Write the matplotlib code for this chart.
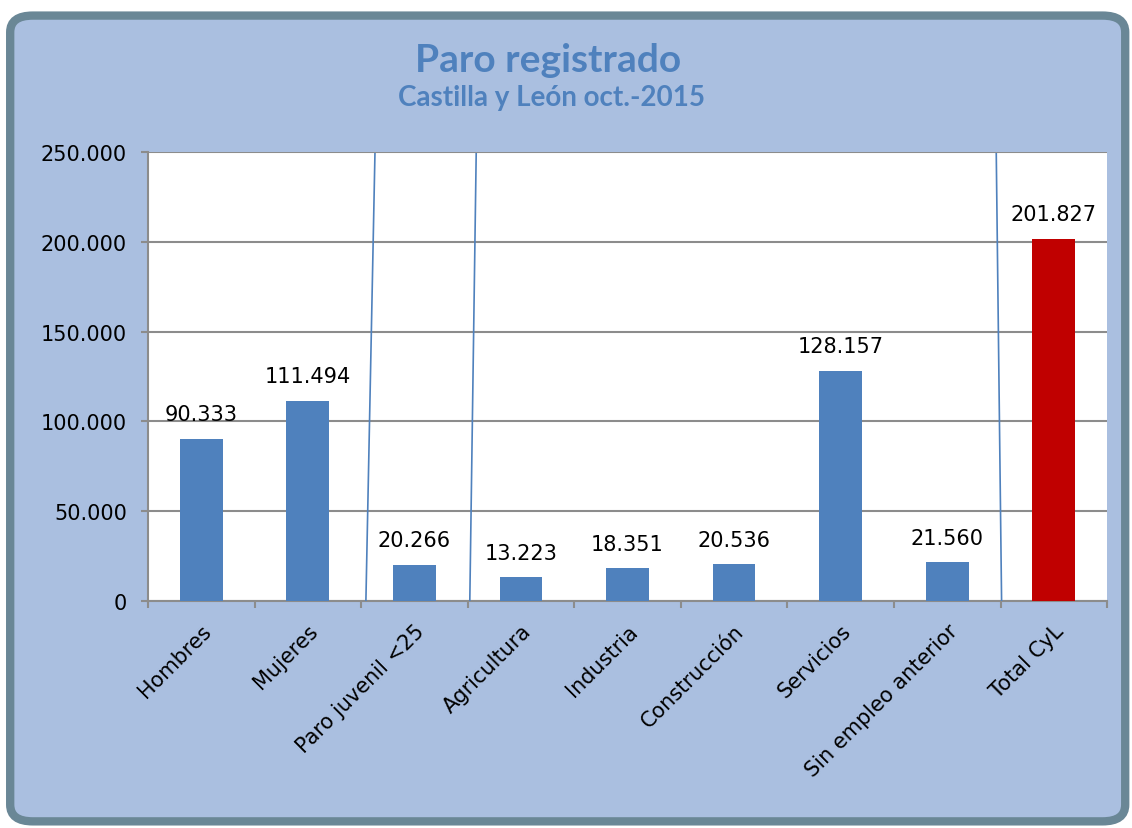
import matplotlib
matplotlib.use("Agg")
import matplotlib.pyplot as plt
from matplotlib.patches import FancyBboxPatch
from matplotlib.ticker import FuncFormatter

categories = ["Hombres", "Mujeres", "Paro juvenil <25", "Agricultura", "Industria",
              "Construcción", "Servicios", "Sin empleo anterior", "Total CyL"]
values = [90333, 111494, 20266, 13223, 18351, 20536, 128157, 21560, 201827]
labels = ["90.333", "111.494", "20.266", "13.223", "18.351", "20.536", "128.157", "21.560", "201.827"]
bar_colors = ["#4F81BD"] * 8 + ["#C00000"]
separators = [((1.545, 0), (1.63, 249000)), ((2.52, 0), (2.58, 249000)), ((7.51, 0), (7.46, 249000))]

fig = plt.figure(figsize=(11.32, 8.29), dpi=100)
fig.patch.set_facecolor("white")
frame = FancyBboxPatch((0.009, 0.008), 0.985, 0.972, boxstyle="round,pad=0,rounding_size=0.02",
                       transform=fig.transFigure, facecolor="#AABFE0", edgecolor="#6A8796",
                       linewidth=6, zorder=-10)
fig.patches.append(frame)

ax = fig.add_axes([0.1307, 0.2738, 0.8473, 0.5416])
ax.set_zorder(5)
ax.set_facecolor("white")
x = list(range(len(categories)))
ax.bar(x, values, width=0.4, color=bar_colors, zorder=3)
for xi, v, lab in zip(x, values, labels):
    ax.text(xi, v + 8000, lab, ha="center", va="bottom", fontsize=15, color="black", zorder=4)
for (x0, y0), (x1, y1) in separators:
    ax.plot([x0, x1], [y0, y1], color="#4F81BD", lw=1.2, zorder=4)

ax.set_xlim(-0.5, 8.5)
ax.set_ylim(0, 250000)
ax.set_yticks([0, 50000, 100000, 150000, 200000, 250000])
ax.yaxis.set_major_formatter(FuncFormatter(lambda v, p: f"{int(v):,}".replace(",", ".")))
ax.grid(axis="y", color="#8C8C8C", lw=1.5, zorder=1)
ax.set_xticks([i - 0.5 for i in range(10)], minor=False)
ax.set_xticklabels([""] * 10)
ax.set_xticks(x, minor=True)
ax.set_xticklabels(categories, minor=True, rotation=45, ha="right", rotation_mode="anchor", fontsize=15)
ax.tick_params(axis="x", which="minor", length=0, pad=14)
ax.tick_params(axis="x", which="major", length=5, color="#8C8C8C", width=1.5)
ax.tick_params(axis="y", length=5, color="#8C8C8C", width=1.5, labelsize=15, pad=10)
for s in ["top", "right"]:
    ax.spines[s].set_visible(False)
for s in ["left", "bottom"]:
    ax.spines[s].set_color("#8C8C8C")
    ax.spines[s].set_linewidth(1.5)

fig.text(0.484, 0.927, "Paro registrado", ha="center", va="center", fontsize=28,
         fontweight="bold", color="#4F81BD", family="Lato")
fig.text(0.487, 0.882, "Castilla y León oct.-2015", ha="center", va="center", fontsize=20,
         fontweight="bold", color="#4F81BD", family="Lato")

fig.savefig("out.png", dpi=100)
